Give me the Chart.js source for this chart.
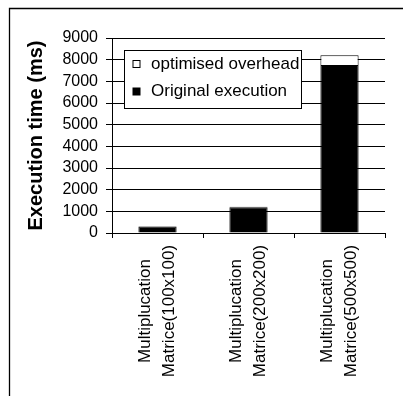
<!DOCTYPE html>
<html>
<head>
<meta charset="utf-8">
<script src="https://cdn.jsdelivr.net/npm/chart.js@4.4.0/dist/chart.umd.min.js"></script>
<style>
  body { margin: 0; background: #fff; }
  canvas { display: block; }
</style>
</head>
<body>
<canvas id="chart" width="403" height="396"></canvas>
<script>
// chart data
var categories = [
    ["Multiplucation", "Matrice(100x100)"],
    ["Multiplucation", "Matrice(200x200)"],
    ["Multiplucation", "Matrice(500x500)"]
];
var originalExecution = [300, 1190, 7750];
var optimisedOverhead = [10, 25, 450];
var yTicks = [0, 1000, 2000, 3000, 4000, 5000, 6000, 7000, 8000, 9000];

var fontName = "'Liberation Sans', Arial, sans-serif";

/* frame round the picture, legend box and centred rotated category labels */
var extras = {
    id: "extras",
    beforeDraw: function (chart) {
        var ctx = chart.ctx;
        ctx.save();
        ctx.fillStyle = "#fff";
        ctx.fillRect(0, 0, chart.width, chart.height);
        ctx.strokeStyle = "#000";
        ctx.lineWidth = 1.3;
        ctx.beginPath();
        ctx.moveTo(9.5, chart.height);
        ctx.lineTo(9.5, 8.5);
        ctx.lineTo(chart.width, 8.5);
        ctx.stroke();
        ctx.restore();
    },
    afterDraw: function (chart) {
        var ctx = chart.ctx;
        var xScale = chart.scales.x;

        // category labels, two lines, rotated and centred
        ctx.save();
        ctx.fillStyle = "#000";
        ctx.font = "17px " + fontName;
        ctx.textAlign = "center";
        ctx.textBaseline = "middle";
        chart.data.labels.forEach(function (lines, i) {
            var x = xScale.getPixelForTick(i);
            ctx.save();
            ctx.translate(x, 311);
            ctx.rotate(-Math.PI / 2);
            lines.forEach(function (line, k) {
                ctx.fillText(line, 0, (k - (lines.length - 1) / 2) * 24);
            });
            ctx.restore();
        });
        ctx.restore();

        // legend in a box inside the plot
        var box = { left: 124.5, top: 50.5, width: 177, height: 58 };
        ctx.save();
        ctx.fillStyle = "#fff";
        ctx.fillRect(box.left, box.top, box.width, box.height);
        ctx.strokeStyle = "#000";
        ctx.lineWidth = 1;
        ctx.strokeRect(box.left, box.top, box.width, box.height);
        ctx.font = "17px " + fontName;
        ctx.textBaseline = "middle";
        ctx.textAlign = "left";
        var sets = chart.data.datasets.slice().reverse();
        sets.forEach(function (ds, k) {
            var cy = 64 + k * 27.5;
            ctx.fillStyle = "#000";
            ctx.fillRect(132.5, cy - 4, 8, 8);
            ctx.fillStyle = ds.backgroundColor;
            ctx.fillRect(133.5, cy - 3, 6, 6);
            ctx.fillStyle = "#000";
            ctx.fillText(ds.label, 151, cy);
        });
        ctx.restore();
    }
};

var ctx = document.getElementById("chart");
var myChart = new Chart(ctx, {
    type: "bar",
    data: {
        labels: categories,
        datasets: [
            {
                label: "Original execution",
                data: originalExecution,
                backgroundColor: "#000",
                borderColor: "#000",
                borderWidth: 1,
                barPercentage: 0.42,
                categoryPercentage: 1
            },
            {
                label: "optimised overhead",
                data: optimisedOverhead,
                backgroundColor: "#fff",
                borderColor: "#000",
                borderWidth: 1,
                barPercentage: 0.42,
                categoryPercentage: 1
            }
        ]
    },
    options: {
        responsive: false,
        animation: false,
        layout: { padding: { left: 0, top: 38, right: 18, bottom: 0 } },
        plugins: {
            legend: { display: false },
            tooltip: { enabled: false }
        },
        scales: {
            x: {
                stacked: true,
                offset: true,
                grid: {
                    offset: true,
                    drawOnChartArea: false,
                    drawTicks: true,
                    tickLength: 5,
                    color: "#000"
                },
                border: { color: "#000", width: 1 },
                ticks: { display: false },
                afterFit: function (scale) { scale.height = 163; }
            },
            y: {
                stacked: true,
                min: 0,
                max: 9000,
                afterBuildTicks: function (scale) {
                    scale.ticks = yTicks.map(function (v) { return { value: v }; });
                },
                grid: { color: "#000", lineWidth: 1, tickLength: 6 },
                border: { color: "#000", width: 1 },
                ticks: {
                    color: "#000",
                    padding: 8,
                    autoSkip: false,
                    font: { family: fontName, size: 16 },
                    callback: function (value) { return String(value); }
                },
                title: {
                    display: true,
                    text: "Execution time (ms)",
                    color: "#000",
                    font: { family: fontName, size: 20, weight: "bold" },
                    padding: { top: 24, bottom: 0 }
                },
                afterFit: function (scale) { scale.width = 112; }
            }
        }
    },
    plugins: [extras]
});
</script>
</body>
</html>
